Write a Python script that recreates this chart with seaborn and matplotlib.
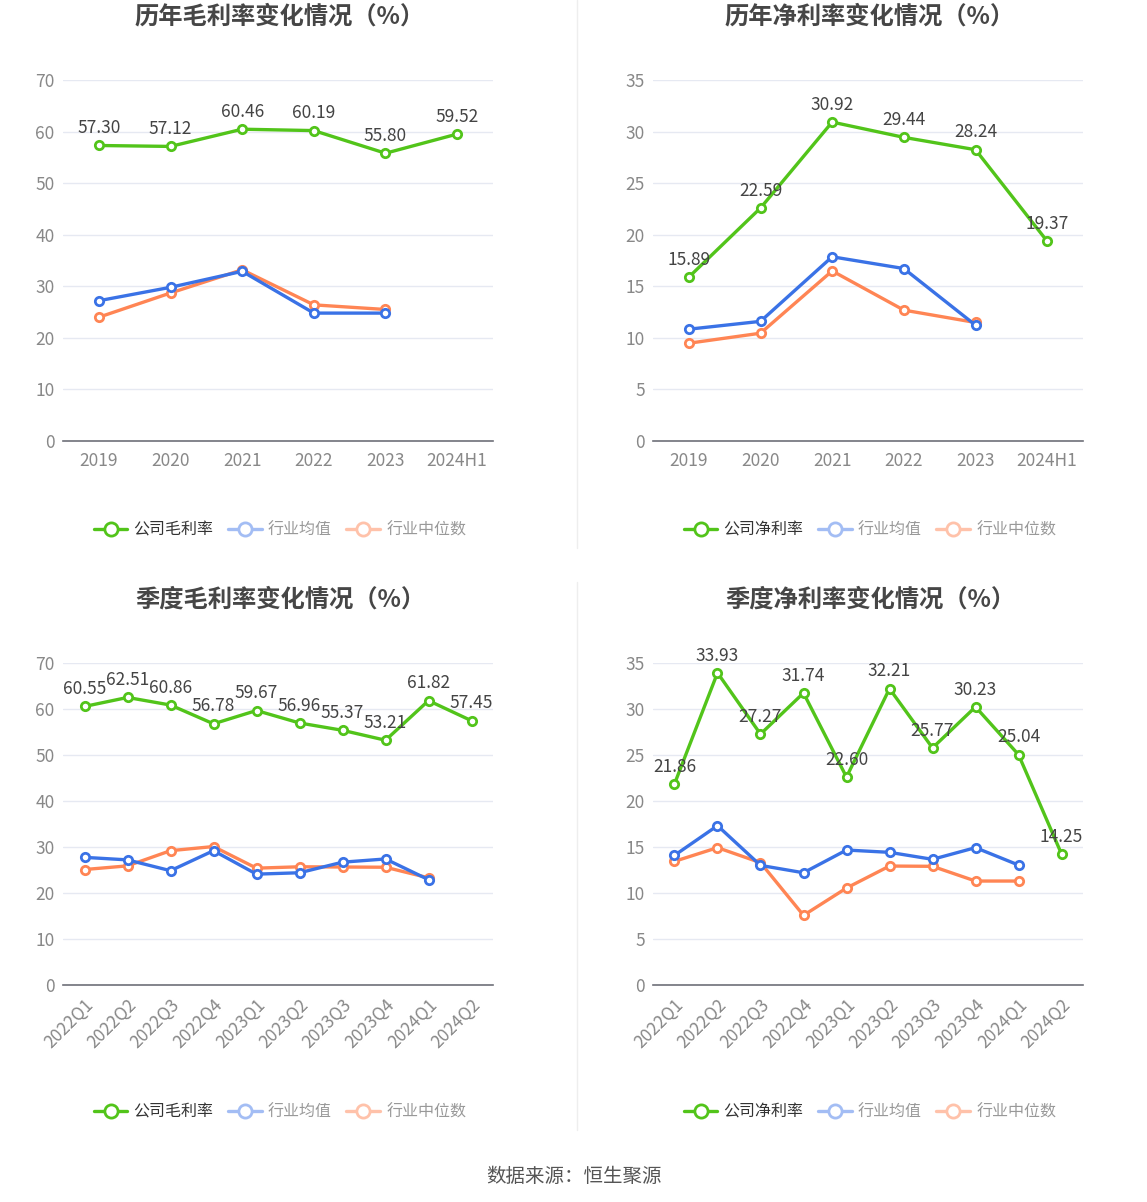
import seaborn as sns
import matplotlib.pyplot as plt
from matplotlib.lines import Line2D

# data
years = ['2019', '2020', '2021', '2022', '2023', '2024H1']
quarters = ['2022Q1', '2022Q2', '2022Q3', '2022Q4', '2023Q1',
            '2023Q2', '2023Q3', '2023Q4', '2024Q1', '2024Q2']

year_gross = [57.30, 57.12, 60.46, 60.19, 55.80, 59.52]
year_gross_mean = [27.2, 29.8, 32.9, 24.8, 24.8]
year_gross_median = [24.0, 28.7, 33.2, 26.4, 25.5]

year_net = [15.89, 22.59, 30.92, 29.44, 28.24, 19.37]
year_net_mean = [10.84, 11.6, 17.86, 16.72, 11.23]
year_net_median = [9.48, 10.45, 16.49, 12.69, 11.49]

q_gross = [60.55, 62.51, 60.86, 56.78, 59.67, 56.96, 55.37, 53.21, 61.82, 57.45]
q_gross_mean = [27.75, 27.2, 24.85, 29.2, 24.1, 24.4, 26.7, 27.4, 22.9]
q_gross_median = [25.1, 25.9, 29.2, 30.1, 25.4, 25.7, 25.65, 25.6, 23.3]

q_net = [21.86, 33.93, 27.27, 31.74, 22.60, 32.21, 25.77, 30.23, 25.04, 14.25]
q_net_mean = [14.09, 17.32, 13.0, 12.2, 14.67, 14.42, 13.66, 14.93, 13.04]
q_net_median = [13.44, 14.93, 13.3, 7.57, 10.54, 12.93, 12.9, 11.3, 11.3]

sns.set_style('white')
plt.rcParams['font.family'] = ['Noto Sans CJK SC', 'DejaVu Sans']

GREEN = '#52C41A'
BLUE = '#3A72E6'
ORANGE = '#FF8554'
W, H = 1147, 1202

fig = plt.figure(figsize=(W / 100, H / 100), dpi=100)


def box(left, top, right, bottom):
    return [left / W, 1 - bottom / H, (right - left) / W, (bottom - top) / H]


def panel(rect, cats, comp, mean, median, ymax, step, title, name,
          title_y, legend_y, cx, rotate=False):
    ax = fig.add_axes(rect)
    x = list(range(len(cats)))
    for vals, col, z in [(median, ORANGE, 2), (mean, BLUE, 3), (comp, GREEN, 4)]:
        sns.lineplot(x=x[:len(vals)], y=vals, ax=ax, color=col, lw=2.4,
                     marker='o', markersize=6, markerfacecolor='white',
                     markeredgecolor=col, markeredgewidth=2, zorder=z, sort=False)
    for xi, v in zip(x, comp):
        ax.annotate(f'{v:.2f}', (xi, v), xytext=(0, 6), textcoords='offset points',
                    ha='center', va='bottom', fontsize=12.5, color='#444444', zorder=6)
    ax.set_xlim(-0.5, len(cats) - 0.5)
    ax.set_ylim(0, ymax)
    ax.set_yticks(range(0, ymax + 1, step))
    ax.set_xticks(x)
    if rotate:
        ax.set_xticklabels(cats, rotation=45, ha='right', rotation_mode='anchor')
    else:
        ax.set_xticklabels(cats)
    ax.grid(axis='y', color='#E6E9F2', lw=1)
    ax.set_axisbelow(True)
    for s in ['top', 'right', 'left']:
        ax.spines[s].set_visible(False)
    ax.spines['bottom'].set_color('#6E7079')
    ax.spines['bottom'].set_linewidth(1.2)
    ax.tick_params(axis='x', length=5, color='#6E7079', labelsize=12.5,
                   labelcolor='#888888', pad=3)
    ax.tick_params(axis='y', length=0, labelsize=12.5, labelcolor='#888888', pad=6)
    fig.text(cx / W, 1 - title_y / H, title, ha='center', va='center',
             fontsize=17.5, fontweight='bold', color='#464646')
    handles = [
        Line2D([], [], color=GREEN, lw=2.4, marker='o', markersize=9.5,
               markerfacecolor='white', markeredgewidth=2),
        Line2D([], [], color='#A3BDF4', lw=2.4, marker='o', markersize=9.5,
               markerfacecolor='white', markeredgewidth=2),
        Line2D([], [], color='#FFC2AA', lw=2.4, marker='o', markersize=9.5,
               markerfacecolor='white', markeredgewidth=2),
    ]
    leg = fig.legend(handles, [name, '行业均值', '行业中位数'], loc='center',
                     bbox_to_anchor=(cx / W, 1 - legend_y / H), ncol=3,
                     frameon=False, fontsize=11.5, handlelength=2.1,
                     handletextpad=0.4, columnspacing=0.9)
    for t, c in zip(leg.get_texts(), ['#333333', '#999999', '#999999']):
        t.set_color(c)
    return ax


panel(box(63, 80, 493, 441), years, year_gross, year_gross_mean, year_gross_median,
      70, 10, '历年毛利率变化情况（%）', '公司毛利率', 17, 530, 280)
panel(box(653, 80, 1083, 441), years, year_net, year_net_mean, year_net_median,
      35, 5, '历年净利率变化情况（%）', '公司净利率', 17, 530, 870)
panel(box(63, 663, 493, 985), quarters, q_gross, q_gross_mean, q_gross_median,
      70, 10, '季度毛利率变化情况（%）', '公司毛利率', 600, 1112, 280, rotate=True)
panel(box(653, 663, 1083, 985), quarters, q_net, q_net_mean, q_net_median,
      35, 5, '季度净利率变化情况（%）', '公司净利率', 600, 1112, 870, rotate=True)

# divider lines between panels
fig.add_artist(Line2D([577 / W, 577 / W], [1 - 0 / H, 1 - 548 / H], color='#EEEEEE', lw=1))
fig.add_artist(Line2D([577 / W, 577 / W], [1 - 582 / H, 1 - 1130 / H], color='#EEEEEE', lw=1))

fig.text(0.5, 1 - 1176 / H, '数据来源：恒生聚源', ha='center', va='center',
         fontsize=14, color='#555555')

fig.savefig('out.png', dpi=100)
